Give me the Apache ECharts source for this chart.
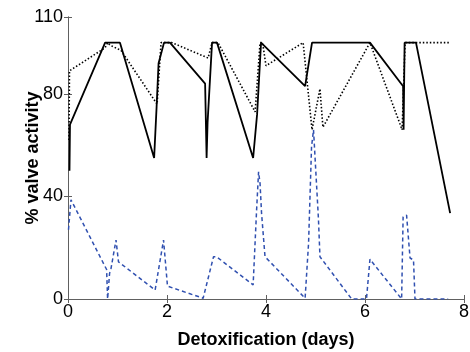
<!DOCTYPE html>
<html>
<head>
<meta charset="utf-8">
<script src="https://cdn.jsdelivr.net/npm/echarts@6/dist/echarts.min.js"></script>
<style>
  html, body { margin: 0; padding: 0; background: #fff; }
  #chart { width: 470px; height: 352px; }
</style>
</head>
<body>
<div id="chart"></div>
<script>
// tick labels
const xTicks = [0, 2, 4, 6, 8];
const yTicks = [0, 40, 80, 110];

// solid black line [day, %]
const solid = [
  [0.03, 50], [0.04, 68], [0.75, 100], [1.05, 100], [1.74, 55], [1.79, 75],
  [1.83, 92], [1.94, 100], [2.06, 100], [2.77, 84], [2.8, 55], [2.82, 69],
  [2.91, 100], [3.01, 100], [3.74, 55], [3.82, 72], [3.9, 100], [3.94, 100],
  [4.79, 83], [4.93, 100], [6.1, 100], [6.77, 83], [6.78, 66], [6.8, 100],
  [7.03, 100], [7.72, 33.5]
];

// dotted black line
const dotted = [
  [0.02, 62], [0.03, 89], [0.75, 98], [0.8, 100], [0.85, 99], [1.07, 97],
  [1.8, 76], [1.88, 100], [2.1, 100], [2.83, 94], [2.91, 100], [3.03, 100],
  [3.78, 73], [3.88, 100], [3.93, 100], [4.0, 91], [4.75, 100], [4.93, 66],
  [5.09, 82], [5.15, 67], [6.1, 100], [6.75, 66], [6.81, 100], [7.72, 100]
];

// dashed blue line
const dashed = [
  [0.01, 27], [0.06, 38.7], [0.78, 11.5], [0.8, 0], [0.84, 10], [0.87, 12],
  [0.97, 23], [1.02, 14.5], [1.76, 3.5], [1.93, 23], [2.01, 5], [2.73, 0.3],
  [2.77, 0.5], [2.94, 16.5], [3.0, 16.5], [3.74, 5.5], [3.81, 34.7], [3.85, 49.6],
  [3.88, 45], [3.91, 33.5], [3.98, 16.5], [4.79, 0.3], [4.86, 21.8], [4.92, 59.4],
  [4.96, 66], [5.02, 45], [5.06, 31], [5.09, 16.5], [5.73, 0], [6.03, 0],
  [6.1, 15.5], [6.74, 0], [6.77, 32], [6.84, 32.7], [6.91, 16], [6.98, 15.2],
  [7.01, 0], [7.68, 0]
];

const chart = echarts.init(document.getElementById('chart'));

const axisColor = '#606060';
const font = 'Liberation Sans, Arial, sans-serif';

const boxAxis = {
  axisLine: { show: true, lineStyle: { color: axisColor, width: 1 } },
  axisTick: { show: true, inside: true, length: 4, lineStyle: { color: axisColor } },
  splitLine: { show: false }
};

const option = {
  animation: false,
  grid: { left: 68, right: 6, top: 17, bottom: 53, outerBoundsMode: 'none' },
  xAxis: [
    {
      type: 'value', min: 0, max: 8, interval: 2, position: 'bottom',
      ...boxAxis,
      axisTick: { ...boxAxis.axisTick, customValues: xTicks },
      axisLabel: { customValues: xTicks, color: '#000', fontSize: 18, fontFamily: font, margin: 4 },
      name: 'Detoxification (days)',
      nameLocation: 'middle', nameGap: 32, nameMoveOverlap: false,
      nameTextStyle: { color: '#000', fontSize: 18, fontWeight: 'bold', fontFamily: font }
    },
    {
      type: 'value', min: 0, max: 8, interval: 2, position: 'top',
      ...boxAxis,
      axisTick: { ...boxAxis.axisTick, customValues: xTicks },
      axisLabel: { show: false }
    }
  ],
  yAxis: [
    {
      type: 'value', min: 0, max: 110, position: 'left',
      ...boxAxis,
      axisTick: { ...boxAxis.axisTick, customValues: yTicks },
      axisLabel: {
        customValues: yTicks, color: '#000', fontSize: 18, fontFamily: font, margin: 5,
        padding: [0, 0, 12, 0]
      },
      name: '% valve activity',
      nameLocation: 'middle', nameGap: 26, nameMoveOverlap: false,
      nameTextStyle: { color: '#000', fontSize: 18, fontWeight: 'bold', fontFamily: font }
    },
    {
      type: 'value', min: 0, max: 110, position: 'right',
      ...boxAxis,
      axisTick: { ...boxAxis.axisTick, customValues: yTicks },
      axisLabel: { show: false }
    }
  ],
  series: [
    {
      type: 'line', data: dashed, showSymbol: false,
      lineStyle: { color: '#3050b0', width: 1.5, type: [4, 3] }
    },
    {
      type: 'line', data: dotted, showSymbol: false,
      lineStyle: { color: '#000', width: 1.6, type: [1.5, 2] }
    },
    {
      type: 'line', data: solid, showSymbol: false,
      lineStyle: { color: '#000', width: 1.8 }
    }
  ]
};

chart.setOption(option);
</script>
</body>
</html>
